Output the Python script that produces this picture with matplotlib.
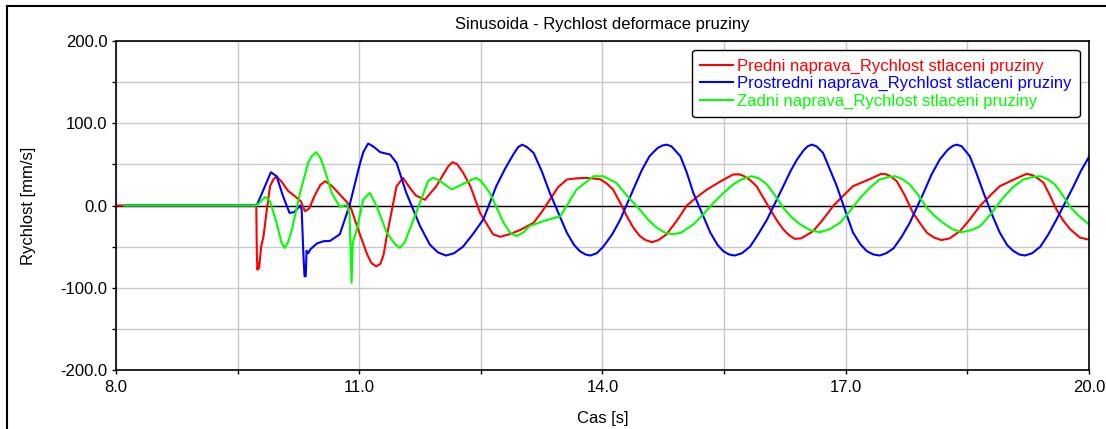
import matplotlib
matplotlib.use("Agg")
import matplotlib.pyplot as plt
from matplotlib.lines import Line2D
from matplotlib.ticker import FormatStrFormatter

plt.rcParams['font.family'] = ['Liberation Sans', 'DejaVu Sans']

# Predni naprava (red)
t_red = [8.0, 9.73, 9.737, 9.745, 9.755, 9.765, 9.79, 9.82, 9.86, 9.90, 9.94, 9.98,
         10.05, 10.12, 10.21, 10.28, 10.33, 10.38, 10.45, 10.52, 10.58, 10.66, 10.76,
         10.886, 11.0, 11.1, 11.15, 11.21, 11.26, 11.3, 11.34, 11.46, 11.54, 11.62, 11.7,
         11.81, 11.95, 12.05, 12.1, 12.15, 12.21, 12.28, 12.37, 12.49, 12.65, 12.74,
         12.85, 12.98, 13.15, 13.25, 13.35, 13.45, 13.56, 13.68, 13.8, 13.97, 14.05,
         14.13, 14.22, 14.30, 14.38, 14.46, 14.53, 14.61, 14.69, 14.79, 14.92, 15.04,
         15.16, 15.29, 15.45, 15.61, 15.68, 15.74, 15.82, 15.9, 15.98, 16.07, 16.15,
         16.23, 16.3, 16.37, 16.45, 16.6, 16.72, 16.85, 16.97, 17.09, 17.27, 17.44,
         17.5, 17.56, 17.63, 17.73, 17.83, 17.92, 18.0, 18.09, 18.18, 18.28, 18.41,
         18.53, 18.66, 18.78, 18.9, 19.06, 19.23, 19.3, 19.37, 19.44, 19.52, 19.6,
         19.68, 19.77, 19.89, 20.0]
v_red = [0, 0, -60, -78, -70, -76, -50, -37, -5, 23.5, 31.6, 35.6,
         28, 18, 11, 5, -7, -4, 12, 25, 29.5, 24, 13.4,
         0, -33, -60, -70, -74, -71, -60, -37, 23.5, 33.6, 22, 12,
         7, 23.5, 40, 48, 52.7, 50, 40, 23.5, -9, -35, -38,
         -35, -30, -21, -8, 7, 22, 31.6, 33, 33.6, 32, 27,
         19.5, 3, -13, -27, -37, -42, -44.6, -42, -35, -18, 0,
         10, 19.5, 29, 37.7, 38, 36, 31, 23.5, 10, -5, -18,
         -29, -36, -40.5, -40, -31, -17, 0, 12, 23.5, 31, 38.5,
         38, 35, 29.5, 12, -9, -22, -33, -39, -42, -40, -31,
         -17, 0, 12, 23.5, 31, 38.5, 37, 33, 27.6, 12, -5,
         -18, -29, -39, -41.5]

# Prostredni naprava (blue)
t_blue = [8.1, 9.735, 9.82, 9.91, 9.98, 10.06, 10.14, 10.2, 10.27, 10.29, 10.31,
          10.325, 10.34, 10.35, 10.37, 10.4, 10.48, 10.56, 10.64, 10.76, 10.88,
          11.0, 11.05, 11.11, 11.17, 11.26, 11.38, 11.46, 11.58, 11.75, 11.87, 11.97,
          12.07, 12.17, 12.28, 12.4, 12.53, 12.69, 12.8, 12.9, 12.96, 13.01, 13.07,
          13.15, 13.25, 13.35, 13.46, 13.56, 13.65, 13.72, 13.79, 13.85, 13.93, 14.01,
          14.12, 14.22, 14.38, 14.48, 14.58, 14.68, 14.74, 14.79, 14.85, 14.96, 15.04,
          15.12, 15.23, 15.33, 15.42, 15.49, 15.56, 15.63, 15.72, 15.82, 15.92, 16.03,
          16.23, 16.32, 16.4, 16.48, 16.53, 16.58, 16.64, 16.72, 16.8, 16.89, 17.0,
          17.09, 17.18, 17.26, 17.34, 17.42, 17.5, 17.59, 17.69, 17.79, 17.96, 18.06,
          18.16, 18.26, 18.32, 18.37, 18.43, 18.53, 18.61, 18.7, 18.8, 18.9, 18.99,
          19.07, 19.14, 19.21, 19.3, 19.4, 19.5, 19.6, 19.81, 19.9, 20.0]
v_blue = [0, 0, 19.5, 40.5, 35.6, 11.4, -9, -8, 0, -5, -57,
          -86, -86, -55, -58, -53, -46, -43.4, -43, -35, 0,
          47.8, 65, 75.4, 72, 64.8, 62, 51.9, 15.4, -25, -47.4, -57,
          -60.8, -58, -50, -35, -17, 23.5, 45, 62, 71, 74, 71,
          64, 42, 15.4, -10, -33, -48, -55.5, -59.5, -60.8, -58, -50,
          -35, -17, 19.5, 42, 60, 70, 73, 74, 72, 60, 40,
          15.4, -10, -33, -48, -55.5, -59.5, -60.8, -58, -50, -35, -17,
          23.5, 42, 56, 67, 72, 74, 72, 64, 45, 23.5, -8,
          -33, -47, -55.5, -59.5, -60.8, -58, -52, -38, -21, 15.4, 38,
          56, 68, 72.5, 74, 72, 60, 40, 15.4, -10, -33, -48,
          -55.5, -59.5, -60.8, -58, -50, -35, -17, 23.5, 42, 59]

# Zadni naprava (green)
t_green = [8.1, 9.735, 9.84, 9.9, 9.98, 10.04, 10.08, 10.12, 10.17, 10.27, 10.37,
           10.42, 10.47, 10.52, 10.56, 10.66, 10.76, 10.85, 10.88, 10.905, 10.92,
           10.935, 10.96, 11.05, 11.13, 11.21, 11.34, 11.44, 11.5, 11.56, 11.67,
           11.85, 11.91, 11.98, 12.14, 12.38, 12.44, 12.5, 12.61, 12.78, 12.86, 12.94,
           13.02, 13.1, 13.27, 13.48, 13.68, 13.89, 14.01, 14.17, 14.3, 14.46, 14.57,
           14.67, 14.77, 14.87, 14.97, 15.12, 15.25, 15.37, 15.49, 15.61, 15.72, 15.84,
           15.93, 16.03, 16.13, 16.23, 16.34, 16.44, 16.56, 16.68, 16.8, 16.93, 17.05,
           17.18, 17.3, 17.42, 17.52, 17.61, 17.7, 17.79, 17.9, 18.0, 18.1, 18.2,
           18.32, 18.43, 18.55, 18.66, 18.8, 18.94, 19.06, 19.19, 19.3, 19.4, 19.49,
           19.58, 19.68, 19.77, 19.88, 20.0]
v_green = [0, 0, 10.5, 5, -21, -45, -51.5, -45, -29, 15.4, 52,
           61, 64.8, 58, 47.8, 15.4, -1.6, 1, -10, -94, -46,
           -40, -33, 7.3, 15.4, 0, -33, -47, -51.5, -45, -17,
           30, 33.6, 31, 19.5, 31, 33.6, 30, 15.4, -21, -33, -37,
           -33, -25, -19, -13, 19.5, 35.6, 35.6, 27.6, 12, -5, -18,
           -27, -33, -35, -33, -23, -10, 3.3, 15, 25.5, 32, 35.6,
           33, 25.5, 12, -3, -15, -23, -30, -32.4, -29, -21, -7,
           9.3, 22, 31.6, 34.5, 35.6, 32, 25.5, 12, -3, -13, -21,
           -29, -32.4, -30, -25, -9, 9.3, 22, 31.6, 34.5, 35.6, 32,
           25.5, 12, -2, -13, -23]

labels = ["Predni naprava_Rychlost stlaceni pruziny",
          "Prostredni naprava_Rychlost stlaceni pruziny",
          "Zadni naprava_Rychlost stlaceni pruziny"]
x_major = [8, 11, 14, 17, 20]
x_minor = [9.5, 12.5, 15.5, 18.5]
y_major = [-200, -100, 0, 100, 200]
y_minor = [-150, -50, 50, 150]

fig = plt.figure(figsize=(11.06, 4.29), dpi=100)
ax = fig.add_axes([0.1049, 0.1375, 0.8797, 0.7669])

ax.plot(t_red, v_red, color='#ff0000', lw=1.5, label=labels[0])
ax.plot(t_blue, v_blue, color='#0000ff', lw=1.5, label=labels[1])
ax.plot(t_green, v_green, color='#00ff00', lw=1.5, label=labels[2])
ax.axhline(0, color='black', lw=1.0, zorder=1.5)

ax.set_xlim(8, 20)
ax.set_ylim(-200, 200)
ax.set_xticks(x_major)
ax.set_xticks(x_minor, minor=True)
ax.set_yticks(y_major)
ax.set_yticks(y_minor, minor=True)
ax.xaxis.set_major_formatter(FormatStrFormatter('%.1f'))
ax.yaxis.set_major_formatter(FormatStrFormatter('%.1f'))
ax.grid(True, which='both', color='#c8c8c8', lw=1.0)
ax.set_axisbelow(True)
ax.tick_params(which='both', length=3, width=1, direction='out', labelsize=12, colors='black')
ax.tick_params(axis='x', pad=4)
ax.tick_params(axis='y', pad=3)
for s in ax.spines.values():
    s.set_linewidth(1.2)
    s.set_color('black')

ax.set_title("Sinusoida - Rychlost deformace pruziny", fontsize=12, y=1.035, pad=0)
ax.set_xlabel("Cas [s]", fontsize=12)
ax.set_ylabel("Rychlost [mm/s]", fontsize=12)
ax.xaxis.set_label_coords(0.5, -0.125)
ax.yaxis.set_label_coords(-0.082, 0.5)

leg = ax.legend(loc='upper right', bbox_to_anchor=(0.9887, 0.9675), borderaxespad=0,
                fontsize=12, labelcolor='linecolor', handlelength=2.0, handletextpad=0.2,
                labelspacing=0.15, borderpad=0.4, framealpha=1, fancybox=True,
                edgecolor='black')
leg.get_frame().set_linewidth(1.0)
leg.get_frame().set_boxstyle('round', pad=0.1, rounding_size=0.2)

# outer frame of the picture
fig.add_artist(Line2D([7 / 1106, 1], [1 - 5.5 / 429, 1 - 5.5 / 429], color='black', lw=1.5))
fig.add_artist(Line2D([7 / 1106, 7 / 1106], [0, 1 - 5.5 / 429], color='black', lw=1.5))

fig.savefig("out.png", dpi=100)
